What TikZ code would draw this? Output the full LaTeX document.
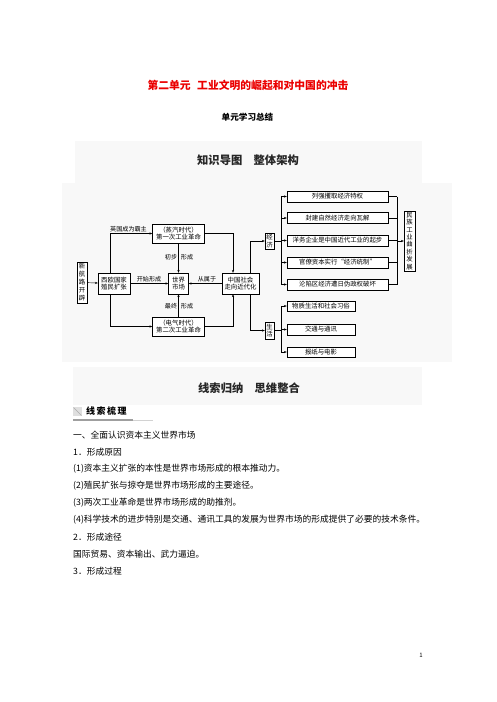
\documentclass[tikz,border=0pt]{standalone}
\usepackage{fontspec}
\setmainfont{Noto Sans CJK SC}
\usetikzlibrary{arrows.meta}
\definecolor{titlered}{RGB}{235,0,0}
\definecolor{bandgray}{RGB}{248,248,248}
\begin{document}
\begin{tikzpicture}[x=1pt,y=-1pt,
  box/.style={draw, line width=0.45pt, fill=white, inner sep=0pt, align=center, font=\fontsize{6.4}{7.6}\selectfont},
  vbox/.style={box, font=\fontsize{6.4}{7.4}\selectfont},
  lbl/.style={inner sep=0pt, font=\fontsize{6.1}{7}\selectfont},
  arr/.style={-{Stealth[length=2.8pt,width=2.2pt]}, line width=0.45pt},
  ln/.style={line width=0.45pt},
  body/.style={anchor=west, inner sep=0pt, font=\fontsize{8.75}{10}\selectfont},
  band/.style={fill=bandgray, draw=none}]
\useasboundingbox (0,0) rectangle (496,702);
\fill[white] (0,0) rectangle (496,702);

% titles
\node[inner sep=0pt, text=titlered, font=\fontsize{10.8}{12}\selectfont\bfseries] (title) at (248,85) {第二单元\hspace{0.6em}工业文明的崛起和对中国的冲击};
\node[inner sep=0pt, font=\fontsize{8.6}{10}\selectfont\bfseries] (sub) at (247.5,117) {单元学习总结};

% backgrounds
\fill[band] (75,141) rectangle (422,183);
\fill[band] (62,183) rectangle (452,362);
\fill[band] (73,367) rectangle (422,405);
\node[inner sep=0pt, font=\fontsize{11.3}{13}\selectfont\bfseries, text=black!85] (h1) at (248,160) {知识导图\quad 整体架构};
\node[inner sep=0pt, font=\fontsize{11.3}{13}\selectfont\bfseries, text=black!85] (h2) at (249,388) {线索归纳\quad 思维整合};

% diagram nodes
\node[vbox, minimum width=10pt, minimum height=41pt, font=\fontsize{6.4}{8}\selectfont] (xh) at (82,282.5) {新\\航\\路\\开\\辟};
\node[box, minimum width=32pt, minimum height=21pt] (xo) at (114,283.5) {西欧国家\\殖民扩张};
\node[box, minimum width=20pt, minimum height=21pt] (sc) at (178.5,283.5) {世界\\市场};
\node[box, minimum width=37pt, minimum height=21pt] (zg) at (240.5,283.5) {中国社会\\走向近代化};
\node[box, minimum width=52pt, minimum height=19pt] (r1) at (178.5,233.5) {（蒸汽时代）\\第一次工业革命};
\node[box, minimum width=52pt, minimum height=19pt] (r2) at (178.5,326.5) {（电气时代）\\第二次工业革命};
\node[vbox, minimum width=9pt, minimum height=16pt] (jj) at (269.5,241) {经\\济};
\node[vbox, minimum width=9pt, minimum height=17pt] (sh) at (269.5,330.5) {生\\活};
\node[box, minimum width=101pt, minimum height=11pt] (e1) at (337.5,196.5) {列强攫取经济特权};
\node[box, minimum width=101pt, minimum height=11pt] (e2) at (337.5,218) {封建自然经济走向瓦解};
\node[box, minimum width=101pt, minimum height=11pt] (e3) at (337.5,240.5) {洋务企业是中国近代工业的起步};
\node[box, minimum width=101pt, minimum height=11pt] (e4) at (337.5,262.5) {官僚资本实行“经济统制”};
\node[box, minimum width=101pt, minimum height=11pt] (e5) at (337.5,284.5) {沦陷区经济遭日伪政权破坏};
\node[vbox, minimum width=11pt, minimum height=60pt] (mz) at (409.5,241) {民\\族\\工\\业\\曲\\折\\发\\展};
\node[box, minimum width=68pt, minimum height=10.5pt] (s1) at (321,306) {物质生活和社会习俗};
\node[box, minimum width=68pt, minimum height=10.5pt] (s2) at (321,329.5) {交通与通讯};
\node[box, minimum width=68pt, minimum height=10.5pt] (s3) at (321,352) {报纸与电影};

% labels
\node[lbl] (l1) at (128.5,229.5) {英国成为霸主};
\node[lbl] (l2) at (149,279.5) {开始形成};
\node[lbl] (l3) at (207,279.5) {从属于};
\node[lbl] (l4) at (171,257) {初步};
\node[lbl] (l5) at (187,257) {形成};
\node[lbl] (l6) at (171,306) {最终};
\node[lbl] (l7) at (187,306) {形成};

% helper coordinates
\coordinate (cx) at (110,0);
\coordinate (cz) at (233,0);
\coordinate (cb) at (250,0);
\coordinate (bus) at (281,0);
\coordinate (bus2) at (397,0);

% connectors
\draw[arr] (xh) -- (xo);
\draw[arr] (xo) -- (sc);
\draw[arr] (zg) -- (sc);
\draw[arr] (r1) -- (sc);
\draw[arr] (r2) -- (sc);
\draw[arr] (cx |- xo.north) |- (r1.west);
\draw[arr] (cx |- xo.south) |- (r2.west);
\draw[arr] (r1.east) -| (cz |- zg.north);
\draw[arr] (r2.east) -| (cz |- zg.south);
\draw[arr] (cb |- zg.north) |- (jj.west);
\draw[arr] (cb |- zg.south) |- (sh.west);

\draw[ln] (jj.east) -- (bus |- jj.east);
\draw[ln] (bus |- e1.west) -- (bus |- e5.west);
\foreach \n in {e1,e2,e3,e4,e5} \draw[arr] (bus |- \n.west) -- (\n.west);
\foreach \n in {e1,e2,e3,e4,e5} \draw[ln] (\n.east) -- (bus2 |- \n.east);
\draw[ln] (bus2 |- e1.east) -- (bus2 |- e5.east);
\draw[arr] (bus2 |- mz.west) -- (mz.west);

\draw[ln] (sh.east) -- (bus |- sh.east);
\draw[ln] (bus |- s1.west) -- (bus |- s3.west);
\foreach \n in {s1,s2,s3} \draw[arr] (bus |- \n.west) -- (\n.west);

% section header
\fill[gray!25] (73,407) rectangle (82,416);
\draw[gray!65, line width=0.6pt] (73.5,407.5) -- (81.5,415.5);
\node[inner sep=0pt, anchor=west, font=\fontsize{9}{10}\selectfont\bfseries] (sec) at (86,411.5) {线\,索\,梳\,理};
\draw[gray!75, line width=1.1pt] (73,420) -- (133,420);
\draw[gray!35, line width=0.6pt] (133,420) -- (153,420);

% body text
\node[body] (t1) at (73,435) {一、全面认识资本主义世界市场};
\node[body] (t2) at (73,452) {1．形成原因};
\node[body] (t3) at (73,469) {(1)资本主义扩张的本性是世界市场形成的根本推动力。};
\node[body] (t4) at (73,486) {(2)殖民扩张与掠夺是世界市场形成的主要途径。};
\node[body] (t5) at (73,503) {(3)两次工业革命是世界市场形成的助推剂。};
\node[body] (t6) at (73,520) {(4)科学技术的进步特别是交通、通讯工具的发展为世界市场的形成提供了必要的技术条件。};
\node[body] (t7) at (73,537) {2．形成途径};
\node[body] (t8) at (73,554) {国际贸易、资本输出、武力逼迫。};
\node[body] (t9) at (73,571) {3．形成过程};

\node[inner sep=0pt, font=\fontsize{6}{7}\selectfont] (pg) at (421,655) {1};
\end{tikzpicture}
\end{document}
